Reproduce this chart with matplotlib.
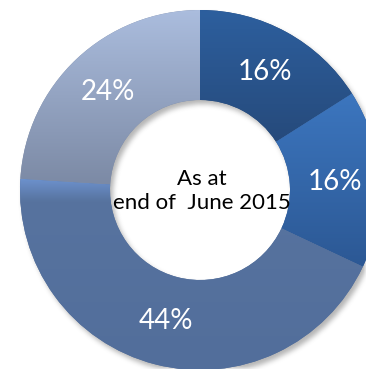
import matplotlib
matplotlib.use("Agg")
import matplotlib.pyplot as plt
import numpy as np
from matplotlib.colors import LinearSegmentedColormap

shares = [16, 16, 44, 24]
labels = ["16%", "16%", "44%", "24%"]
center_text = "As at\nend of  June 2015"

# top-to-bottom gradient stops for each slice
gradients = [
    [(0.0, "#2d5f9e"), (1.0, "#264a7b")],
    [(0.0, "#3c76bf"), (1.0, "#2c5894")],
    [(0.0, "#6d92ce"), (0.12, "#57739f"), (1.0, "#526e9b")],
    [(0.0, "#abbdde"), (1.0, "#7c8aa5")],
]

W, H = 366, 369
cx, cy = 200, H - 190
R, ring = 180, 90

fig = plt.figure(figsize=(W / 100, H / 100), dpi=100)
ax = fig.add_axes([0, 0, 1, 1])

# soft drop shadow under the ring
yy, xx = np.mgrid[0:H, 0:W] + 0.5
d = np.hypot(xx - (cx + 3), yy - (cy - 4))
mask = ((d <= R) & (d >= R - ring)).astype(float)
k = np.ones(5) / 5
for _ in range(3):
    mask = np.apply_along_axis(lambda r: np.convolve(r, k, mode="same"), 0, mask)
    mask = np.apply_along_axis(lambda r: np.convolve(r, k, mode="same"), 1, mask)
shadow = np.zeros((H, W, 4))
shadow[..., :3] = 0.35
shadow[..., 3] = mask * 0.45
ax.imshow(shadow, extent=(0, W, 0, H), origin="lower", zorder=0)

wedges, texts, autotexts = ax.pie(
    shares,
    startangle=90,
    counterclock=False,
    radius=R,
    center=(cx, cy),
    autopct=lambda p: "",
    pctdistance=0.75,
    wedgeprops=dict(width=ring, edgecolor="none"),
    frame=True,
)

for w, stops, at, lab in zip(wedges, gradients, autotexts, labels):
    w.set_facecolor(stops[-1][1])
    w.set_zorder(1)
    bb = w.get_path().get_extents(w.get_transform() - ax.transData)
    cmap = LinearSegmentedColormap.from_list("g", stops)
    grad = np.linspace(0, 1, 256).reshape(-1, 1)
    im = ax.imshow(grad, cmap=cmap, aspect="auto", origin="upper",
                   extent=(bb.x0, bb.x1, bb.y0, bb.y1), zorder=2)
    im.set_clip_path(w)
    at.set_text(lab)
    at.set_color("white")
    at.set_fontsize(20)
    at.set_fontfamily("Lato")
    at.set_zorder(3)

ax.text(cx + 2, cy - 1, center_text, ha="center", va="center",
        fontsize=16, family="Lato", color="black", linespacing=1.3, zorder=3)

ax.set_xlim(0, W)
ax.set_ylim(0, H)
ax.set_aspect("equal")
ax.axis("off")
fig.savefig("out.png", dpi=100)
